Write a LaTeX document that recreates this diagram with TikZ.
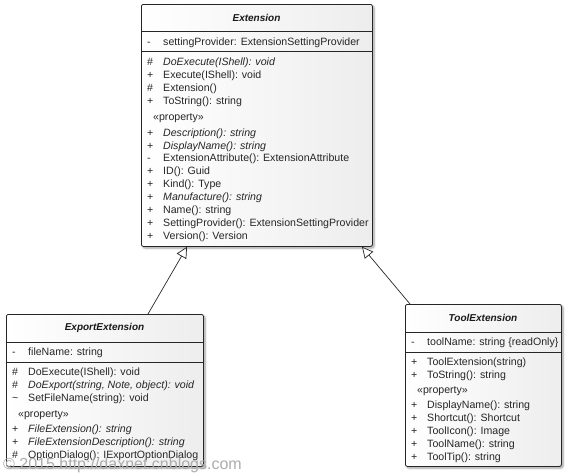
\documentclass[tikz,border=0pt]{standalone}
\usepackage{fontspec}
\setmainfont{Liberation Sans}
\usetikzlibrary{arrows.meta,shadows.blur,calc}
\tikzset{
  classbox/.style={draw=black!85, line width=0.8pt, rounded corners=2pt,
    left color=white, right color=gray!14,
    blur shadow={shadow xshift=1.6pt, shadow yshift=-1.6pt, shadow blur steps=6, shadow opacity=40},
    inner sep=0pt, anchor=north west},
  ctitle/.style={font=\fontsize{10}{12}\selectfont\bfseries\itshape, anchor=center, inner sep=0pt, text=black!90},
  txt/.style={font=\fontsize{10.6}{12}\selectfont, anchor=base west, inner sep=0pt, text=black!85},
  sepline/.style={draw=black!85, line width=0.7pt},
  gen/.style={draw=black!85, line width=0.7pt, -{Triangle[open,length=11pt,width=11pt,fill=white]}},
  wmark/.style={font=\fontsize{16}{18}\selectfont, anchor=base west, inner sep=0pt, text=gray!65}
}
% #1 prefix, #2 index, #3 box left, #4 row centre y, #5 symbol, #6 text
\newcommand\mem[6]{%
  \node[txt] (#1s#2) at (#3+6,#4+3.8) {#5};
  \node[txt] (#1t#2) at (#3+22,#4+3.8) {#6};}
\newcommand\stereo[4]{\node[txt] (#1) at (#2+12,#3+3.8) {#4};}
\begin{document}
\begin{tikzpicture}[x=1pt,y=-1pt]
\useasboundingbox (0,0) rectangle (570,475);

% ---------- Extension ----------
\node[classbox, minimum width=231pt, minimum height=242pt] (ext) at (141,4) {};
\node[ctitle] (extT) at (256.5,18) {Extension};
\draw[sepline] ($(ext.north west)+(0,27)$) -- ($(ext.north east)+(0,27)$);
\draw[sepline] ($(ext.north west)+(0,47)$) -- ($(ext.north east)+(0,47)$);
\mem{ea}{1}{141}{41.5}{-}{settingProvider: ExtensionSettingProvider}
\mem{eo}{1}{141}{61.8}{\#}{\itshape DoExecute(IShell): void}
\mem{eo}{2}{141}{74.8}{+}{Execute(IShell): void}
\mem{eo}{3}{141}{87.8}{\#}{Extension()}
\mem{eo}{4}{141}{100.8}{+}{ToString(): string}
\stereo{ep}{141}{116.5}{«property»}
\mem{ep}{1}{141}{132.3}{+}{\itshape Description(): string}
\mem{ep}{2}{141}{145.2}{+}{\itshape DisplayName(): string}
\mem{ep}{3}{141}{158.1}{-}{ExtensionAttribute(): ExtensionAttribute}
\mem{ep}{4}{141}{171.0}{+}{ID(): Guid}
\mem{ep}{5}{141}{183.9}{+}{Kind(): Type}
\mem{ep}{6}{141}{196.8}{+}{\itshape Manufacture(): string}
\mem{ep}{7}{141}{209.7}{+}{Name(): string}
\mem{ep}{8}{141}{222.6}{+}{SettingProvider(): ExtensionSettingProvider}
\mem{ep}{9}{141}{235.5}{+}{Version(): Version}

% ---------- ExportExtension ----------
\node[classbox, minimum width=197pt, minimum height=152pt] (exp) at (6,314) {};
\node[ctitle] (expT) at (104.5,328.3) {ExportExtension};
\draw[sepline] ($(exp.north west)+(0,28.5)$) -- ($(exp.north east)+(0,28.5)$);
\draw[sepline] ($(exp.north west)+(0,48.5)$) -- ($(exp.north east)+(0,48.5)$);
\mem{xa}{1}{6}{352}{-}{fileName: string}
\mem{xo}{1}{6}{372}{\#}{DoExecute(IShell): void}
\mem{xo}{2}{6}{385}{\#}{\itshape DoExport(string, Note, object): void}
\mem{xo}{3}{6}{398}{\textasciitilde}{SetFileName(string): void}
\stereo{xp}{6}{414}{«property»}
\mem{xp}{1}{6}{428.5}{+}{\itshape FileExtension(): string}
\mem{xp}{2}{6}{441.5}{+}{\itshape FileExtensionDescription(): string}
\mem{xp}{3}{6}{454.8}{\#}{OptionDialog(): IExportOptionDialog}

% ---------- ToolExtension ----------
\node[classbox, minimum width=156pt, minimum height=162pt] (tool) at (405,304) {};
\node[ctitle] (toolT) at (483,318.3) {ToolExtension};
\draw[sepline] ($(tool.north west)+(0,28.5)$) -- ($(tool.north east)+(0,28.5)$);
\draw[sepline] ($(tool.north west)+(0,48)$) -- ($(tool.north east)+(0,48)$);
\mem{ta}{1}{405}{341.7}{-}{toolName: string \{readOnly\}}
\mem{to}{1}{405}{361.7}{+}{ToolExtension(string)}
\mem{to}{2}{405}{374.5}{+}{ToString(): string}
\stereo{tp}{405}{390}{«property»}
\mem{tp}{1}{405}{405}{+}{DisplayName(): string}
\mem{tp}{2}{405}{418}{+}{Shortcut(): Shortcut}
\mem{tp}{3}{405}{431}{+}{ToolIcon(): Image}
\mem{tp}{4}{405}{444}{+}{ToolName(): string}
\mem{tp}{5}{405}{457}{+}{ToolTip(): string}

% ---------- generalisations ----------
\draw[gen] ($(exp.north west)+(142,0)$) -- ($(ext.south west)+(46,0)$);
\draw[gen] ($(tool.north west)+(5,0)$) -- ($(ext.south west)+(221,0)$);

% ---------- watermark ----------
\node[wmark] (wm) at (3,469) {© 2015 http://daxnet.cnblogs.com};
\end{tikzpicture}
\end{document}
